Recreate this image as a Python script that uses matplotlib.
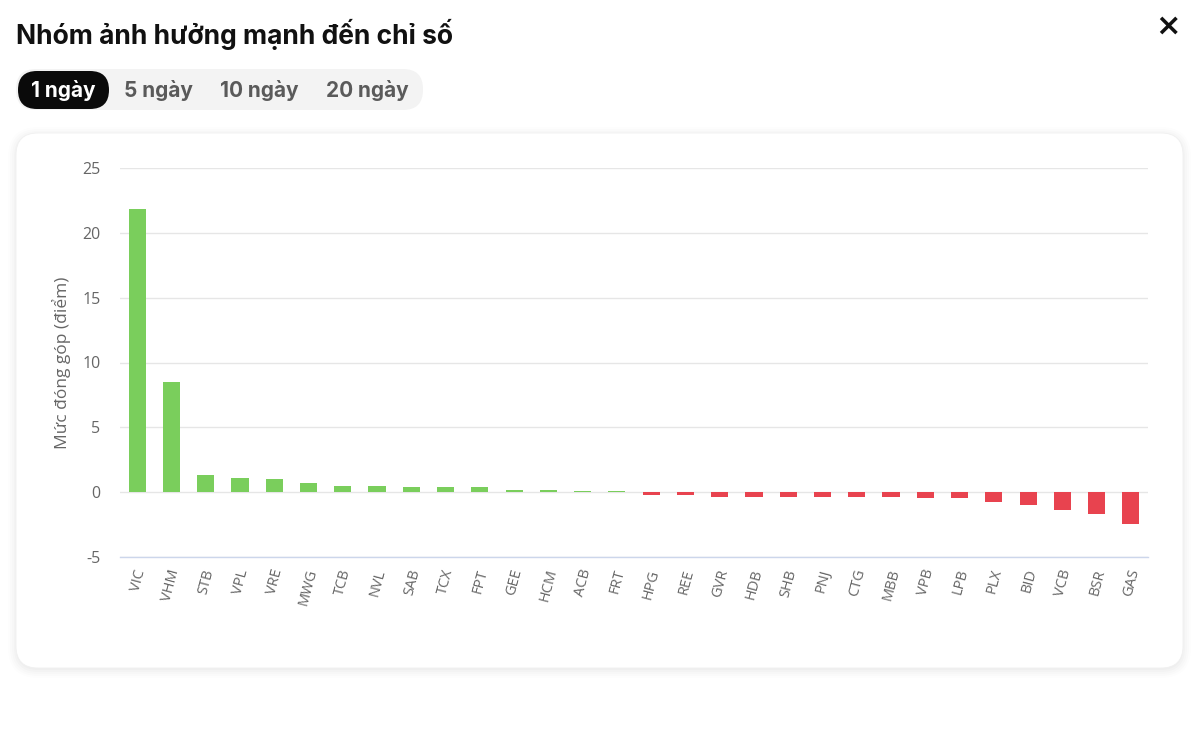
import matplotlib
matplotlib.use("Agg")
import matplotlib.pyplot as plt
import matplotlib.transforms as mtransforms
from matplotlib.patches import FancyBboxPatch

plt.rcParams['font.family'] = ['Open Sans', 'DejaVu Sans']

tickers = ["VIC", "VHM", "STB", "VPL", "VRE", "MWG", "TCB", "NVL", "SAB", "TCX",
           "FPT", "GEE", "HCM", "ACB", "FRT", "HPG", "REE", "GVR", "HDB", "SHB",
           "PNJ", "CTG", "MBB", "VPB", "LPB", "PLX", "BID", "VCB", "BSR", "GAS"]
values = [21.8, 8.5, 1.3, 1.1, 0.98, 0.68, 0.48, 0.48, 0.38, 0.38,
          0.38, 0.18, 0.18, 0.08, 0.07, -0.25, -0.25, -0.38, -0.38, -0.38,
          -0.38, -0.38, -0.38, -0.45, -0.45, -0.78, -0.98, -1.4, -1.7, -2.42]
yticks = [-5, 0, 5, 10, 15, 20, 25]
tabs = ["1 ngày", "5 ngày", "10 ngày", "20 ngày"]
title = "Nhóm ảnh hưởng mạnh đến chỉ số"
ylabel = "Mức đóng góp (điểm)"

GREEN = "#7ace5c"
RED = "#e8434f"

W, H = 1200, 729
fig = plt.figure(figsize=(W / 100, H / 100), dpi=100)
fig.patch.set_facecolor("white")

# background pixel-space axes
bg = fig.add_axes([0, 0, 1, 1], zorder=0)
bg.set_xlim(0, W)
bg.set_ylim(H, 0)
bg.axis("off")

# card shadow (soft)
for i, a in enumerate([0.008, 0.01, 0.012, 0.014, 0.016]):
    g = 8 - 2 * i
    bg.add_patch(FancyBboxPatch((16 - g, 133 - g + 2), 1167 + 2 * g, 535 + 2 * g,
                                boxstyle="round,pad=0,rounding_size=%d" % (22 + g),
                                facecolor="black", edgecolor="none", alpha=a))
bg.add_patch(FancyBboxPatch((16, 133), 1167, 535,
                            boxstyle="round,pad=0,rounding_size=22",
                            facecolor="white", edgecolor="#f0f0f0", linewidth=0.6))

# title
bg.text(16, 34, title, fontsize=19, fontweight="bold", color="#111111",
        ha="left", va="center", family=["Inter", "DejaVu Sans"])
# close button
bg.text(1168, 26, "×", fontsize=22, fontweight="bold", color="#111111",
        ha="center", va="center", family=["DejaVu Sans"])

# tabs
bg.add_patch(FancyBboxPatch((16, 69), 407, 41,
                            boxstyle="round,pad=0,rounding_size=20",
                            facecolor="#f3f3f3", edgecolor="none"))
bg.add_patch(FancyBboxPatch((18, 71), 91, 38,
                            boxstyle="round,pad=0,rounding_size=19",
                            facecolor="#0a0a0a", edgecolor="none"))
tab_x = [63, 158, 259, 367]
for i, (t, x) in enumerate(zip(tabs, tab_x)):
    bg.text(x, 90, t, fontsize=15, fontweight="bold",
            color="white" if i == 0 else "#5a5a5a",
            ha="center", va="center", family=["Inter", "DejaVu Sans"])

# chart axes
ax = fig.add_axes([120 / W, 1 - 557 / H, 1028 / W, (557 - 168) / H], zorder=2)
ax.patch.set_alpha(0)
xs = list(range(len(tickers)))
colors = [GREEN if v >= 0 else RED for v in values]
ax.bar(xs, values, width=0.5, color=colors, zorder=3)
ax.set_xlim(-0.5, len(tickers) - 0.5)
ax.set_ylim(-5, 25)
ax.set_yticks(yticks)
ax.set_yticklabels([str(v) for v in yticks])
ax.grid(axis="y", color="#e6e6e6", linewidth=1, zorder=0)
for s in ["top", "right", "left"]:
    ax.spines[s].set_visible(False)
ax.spines["bottom"].set_color("#ccd6eb")
ax.spines["bottom"].set_linewidth(1)
ax.tick_params(axis="y", length=0, pad=14, labelsize=11.5, labelcolor="#666666")
ax.tick_params(axis="x", length=0, pad=9, labelsize=10.5, labelcolor="#666666")
ax.set_xticks(xs)
ax.set_xticklabels(tickers, rotation=75, ha="right", va="center",
                   rotation_mode="anchor")
offset = mtransforms.ScaledTranslation(4 / 100, 0, fig.dpi_scale_trans)
for lbl in ax.get_xticklabels():
    lbl.set_transform(lbl.get_transform() + offset)
ax.set_ylabel(ylabel, fontsize=12.5, color="#666666", labelpad=8)

fig.savefig("out.png", dpi=100, facecolor="white")
